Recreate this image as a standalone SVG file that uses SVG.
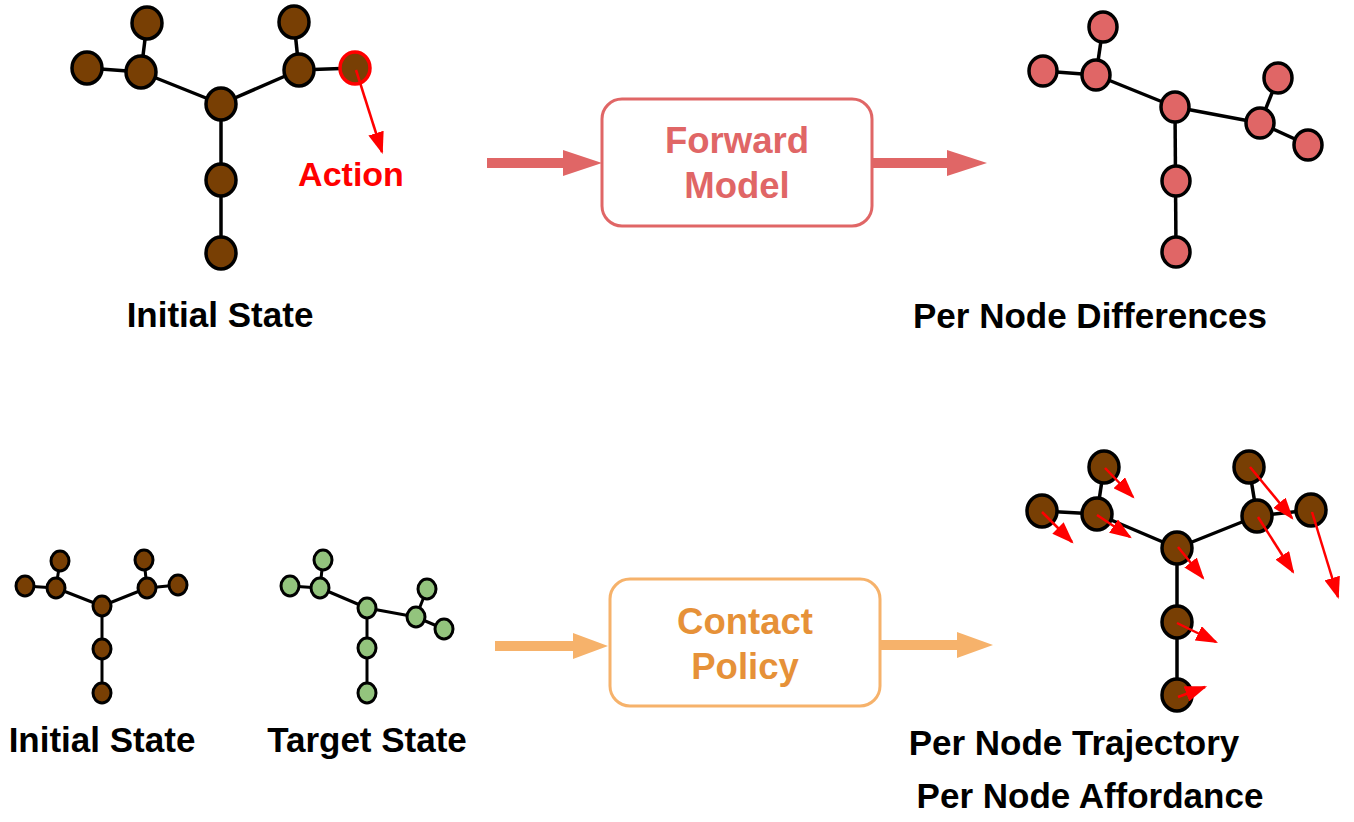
<svg xmlns="http://www.w3.org/2000/svg" width="1354" height="822" viewBox="0 0 1354 822">
<defs>
<style>
.edge{stroke:#000;stroke-width:3.5;fill:none}
.nb{fill:#783f04;stroke:#000;stroke-width:3.5}
.nr{fill:#e06666;stroke:#000;stroke-width:3.5}
.ng{fill:#93c47d;stroke:#000;stroke-width:3}
.sm{stroke-width:3}
.lbl{font-family:"Liberation Sans",Arial,sans-serif;font-weight:bold;font-size:35px;fill:#000;text-anchor:middle}
.box{font-family:"Liberation Sans",Arial,sans-serif;font-weight:bold;font-size:36.5px;text-anchor:middle}
</style>
<marker id="rh2" viewBox="0 0 10 10" refX="9" refY="5" markerWidth="22" markerHeight="16" markerUnits="userSpaceOnUse" orient="auto" preserveAspectRatio="none">
<path d="M0,0 L10,5 L0,10 z" fill="#ff0000"/>
</marker>
</defs>
<rect width="1354" height="822" fill="#fff"/>

<!-- Top-left graph: Initial State -->
<g id="graph-initial-top">
<g class="edge">
<line x1="147" y1="23" x2="141" y2="72"/>
<line x1="87" y1="68" x2="141" y2="72"/>
<line x1="141" y1="72" x2="221" y2="104"/>
<line x1="221" y1="104" x2="299" y2="70"/>
<line x1="294" y1="22" x2="299" y2="70"/>
<line x1="299" y1="70" x2="355" y2="68"/>
<line x1="221" y1="104" x2="221" y2="253"/>
</g>
<ellipse class="nb" cx="147" cy="23" rx="15" ry="16"/>
<ellipse class="nb" cx="87" cy="68" rx="15" ry="16"/>
<ellipse class="nb" cx="141" cy="72" rx="15" ry="16"/>
<ellipse class="nb" cx="221" cy="104" rx="15" ry="16"/>
<ellipse class="nb" cx="299" cy="70" rx="15" ry="16"/>
<ellipse class="nb" cx="294" cy="22" rx="15" ry="16"/>
<ellipse cx="355" cy="68" rx="15" ry="16" fill="#783f04" stroke="#ff0000" stroke-width="3.5"/>
<ellipse class="nb" cx="221" cy="180" rx="15" ry="16"/>
<ellipse class="nb" cx="221" cy="253" rx="15" ry="16"/>
<line x1="356" y1="70" x2="382" y2="152" stroke="#ff0000" stroke-width="2.5" marker-end="url(#rh2)"/>
<text x="351" y="186" font-family="Liberation Sans, Arial, sans-serif" font-weight="bold" font-size="34" fill="#ff0000" text-anchor="middle">Action</text>
<text class="lbl" x="220" y="327">Initial State</text>
</g>

<!-- Forward Model -->
<g id="forward-model">
<rect x="602" y="99" width="270" height="127" rx="20" ry="20" fill="#fff" stroke="#e06666" stroke-width="3"/>
<text class="box" x="737" y="153" fill="#e06666">Forward</text>
<text class="box" x="737" y="198" fill="#e06666">Model</text>
</g>

<!-- Top-right graph: Per Node Differences -->
<g id="graph-differences">
<g class="edge">
<line x1="1103" y1="27" x2="1096" y2="75"/>
<line x1="1043" y1="71" x2="1096" y2="75"/>
<line x1="1096" y1="75" x2="1175" y2="107"/>
<line x1="1175" y1="107" x2="1260" y2="123"/>
<line x1="1278" y1="78" x2="1260" y2="123"/>
<line x1="1260" y1="123" x2="1308" y2="145"/>
<line x1="1175" y1="107" x2="1176" y2="252"/>
</g>
<ellipse class="nr" cx="1103" cy="27" rx="14" ry="15"/>
<ellipse class="nr" cx="1043" cy="71" rx="14" ry="15"/>
<ellipse class="nr" cx="1096" cy="75" rx="14" ry="15"/>
<ellipse class="nr" cx="1175" cy="107" rx="14" ry="15"/>
<ellipse class="nr" cx="1260" cy="123" rx="14" ry="15"/>
<ellipse class="nr" cx="1278" cy="78" rx="14" ry="15"/>
<ellipse class="nr" cx="1308" cy="145" rx="14" ry="15"/>
<ellipse class="nr" cx="1176" cy="181" rx="14" ry="15"/>
<ellipse class="nr" cx="1176" cy="252" rx="14" ry="15"/>
<text class="lbl" x="1090" y="328">Per Node Differences</text>
</g>

<!-- Bottom-left: Initial State -->
<g id="graph-initial-bottom">
<g class="edge sm">
<line x1="60" y1="561" x2="56" y2="588"/>
<line x1="25" y1="586" x2="56" y2="588"/>
<line x1="56" y1="588" x2="102" y2="606"/>
<line x1="102" y1="606" x2="147" y2="588"/>
<line x1="144" y1="560" x2="147" y2="588"/>
<line x1="147" y1="588" x2="178" y2="585"/>
<line x1="102" y1="606" x2="102" y2="693"/>
</g>
<ellipse class="nb" cx="60" cy="561" rx="9" ry="10" style="stroke-width:3"/>
<ellipse class="nb" cx="25" cy="586" rx="9" ry="10" style="stroke-width:3"/>
<ellipse class="nb" cx="56" cy="588" rx="9" ry="10" style="stroke-width:3"/>
<ellipse class="nb" cx="102" cy="606" rx="9" ry="10" style="stroke-width:3"/>
<ellipse class="nb" cx="147" cy="588" rx="9" ry="10" style="stroke-width:3"/>
<ellipse class="nb" cx="144" cy="560" rx="9" ry="10" style="stroke-width:3"/>
<ellipse class="nb" cx="178" cy="585" rx="9" ry="10" style="stroke-width:3"/>
<ellipse class="nb" cx="102" cy="649" rx="9" ry="10" style="stroke-width:3"/>
<ellipse class="nb" cx="102" cy="693" rx="9" ry="10" style="stroke-width:3"/>
<text class="lbl" x="102" y="752">Initial State</text>
</g>

<!-- Bottom: Target State -->
<g id="graph-target">
<g class="edge sm">
<line x1="323" y1="560" x2="320" y2="588"/>
<line x1="290" y1="586" x2="320" y2="588"/>
<line x1="320" y1="588" x2="367" y2="608"/>
<line x1="367" y1="608" x2="416" y2="617"/>
<line x1="427" y1="589" x2="416" y2="617"/>
<line x1="416" y1="617" x2="444" y2="629"/>
<line x1="367" y1="608" x2="367" y2="693"/>
</g>
<ellipse class="ng" cx="323" cy="560" rx="9" ry="10"/>
<ellipse class="ng" cx="290" cy="586" rx="9" ry="10"/>
<ellipse class="ng" cx="320" cy="588" rx="9" ry="10"/>
<ellipse class="ng" cx="367" cy="608" rx="9" ry="10"/>
<ellipse class="ng" cx="416" cy="617" rx="9" ry="10"/>
<ellipse class="ng" cx="427" cy="589" rx="9" ry="10"/>
<ellipse class="ng" cx="444" cy="629" rx="9" ry="10"/>
<ellipse class="ng" cx="367" cy="648" rx="9" ry="10"/>
<ellipse class="ng" cx="367" cy="693" rx="9" ry="10"/>
<text class="lbl" x="367" y="752">Target State</text>
</g>

<!-- Contact Policy -->
<g id="contact-policy">
<rect x="610" y="579" width="270" height="127" rx="20" ry="20" fill="#fff" stroke="#f6b26b" stroke-width="3"/>
<text class="box" x="745" y="634" fill="#e69138">Contact</text>
<text class="box" x="745" y="679" fill="#e69138">Policy</text>
</g>

<!-- Bottom-right graph: trajectory / affordance -->
<g id="graph-trajectory">
<g class="edge">
<line x1="1104" y1="467" x2="1097" y2="514"/>
<line x1="1042" y1="511" x2="1097" y2="514"/>
<line x1="1097" y1="514" x2="1177" y2="548"/>
<line x1="1177" y1="548" x2="1257" y2="516"/>
<line x1="1249" y1="467" x2="1257" y2="516"/>
<line x1="1257" y1="516" x2="1311" y2="510"/>
<line x1="1177" y1="548" x2="1177" y2="695"/>
</g>
<ellipse class="nb" cx="1104" cy="467" rx="15" ry="16"/>
<ellipse class="nb" cx="1042" cy="511" rx="15" ry="16"/>
<ellipse class="nb" cx="1097" cy="514" rx="15" ry="16"/>
<ellipse class="nb" cx="1177" cy="548" rx="15" ry="16"/>
<ellipse class="nb" cx="1257" cy="516" rx="15" ry="16"/>
<ellipse class="nb" cx="1249" cy="467" rx="15" ry="16"/>
<ellipse class="nb" cx="1311" cy="510" rx="15" ry="16"/>
<ellipse class="nb" cx="1177" cy="622" rx="15" ry="16"/>
<ellipse class="nb" cx="1177" cy="695" rx="15" ry="16"/>
<g stroke="#ff0000" stroke-width="2.5" marker-end="url(#rh2)">
<line x1="1105" y1="468" x2="1133" y2="497"/>
<line x1="1097" y1="515" x2="1130" y2="537"/>
<line x1="1042" y1="512" x2="1072" y2="542"/>
<line x1="1178" y1="547" x2="1203" y2="578"/>
<line x1="1250" y1="467" x2="1292" y2="518"/>
<line x1="1258" y1="517" x2="1293" y2="572"/>
<line x1="1312" y1="512" x2="1338" y2="597"/>
<line x1="1177" y1="623" x2="1216" y2="642"/>
<line x1="1178" y1="697" x2="1205" y2="687"/>
</g>
<text class="lbl" x="1074" y="755">Per Node Trajectory</text>
<text class="lbl" x="1090" y="808">Per Node Affordance</text>
</g>

<!-- Connectors -->
<g id="connectors">
<line x1="487" y1="163" x2="565" y2="163" stroke="#e06666" stroke-width="10"/>
<polygon points="563,150 602,163 563,176" fill="#e06666"/>
<line x1="872" y1="163" x2="949" y2="163" stroke="#e06666" stroke-width="10"/>
<polygon points="947,150 987,163 947,176" fill="#e06666"/>
<line x1="495" y1="646" x2="575" y2="646" stroke="#f6b26b" stroke-width="10"/>
<polygon points="573,633 608,646 573,659" fill="#f6b26b"/>
<line x1="880" y1="645" x2="959" y2="645" stroke="#f6b26b" stroke-width="10"/>
<polygon points="957,632 993,645 957,658" fill="#f6b26b"/>
</g>
</svg>
